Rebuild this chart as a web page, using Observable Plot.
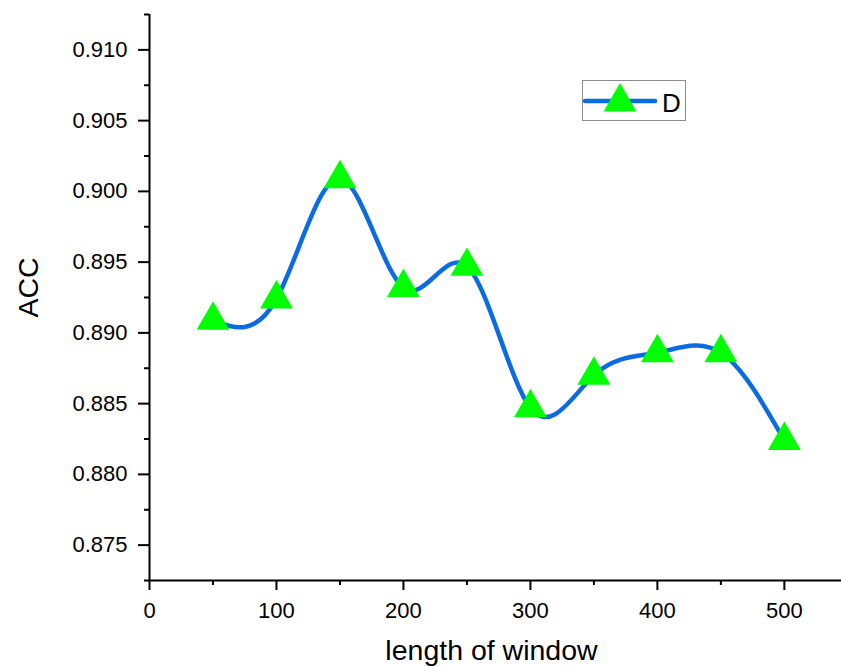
<!DOCTYPE html>
<html>
<head>
<meta charset="utf-8">
<script src="https://cdn.jsdelivr.net/npm/d3@7"></script>
<script src="https://cdn.jsdelivr.net/npm/@observablehq/plot@0.6"></script>
<style>
  html, body { margin: 0; padding: 0; background: #fff; overflow: hidden; }
  #wrap { position: relative; width: 841px; height: 666px; }
  #legend { position: absolute; left: 582px; top: 80px; width: 102px; height: 39px;
            border: 1px solid #8c8c8c; background: #fff; }
</style>
</head>
<body>
<div id="wrap"><div id="chart"></div><div id="legend"></div></div>
<script>
// Data
const windowLength = [50, 100, 150, 200, 250, 300, 350, 400, 450, 500];
const accD = [0.8909, 0.8924, 0.9009, 0.8932, 0.8947, 0.8847, 0.8870, 0.8886, 0.8886, 0.8824];
const seriesName = "D";
const xTicks = [0, 100, 200, 300, 400, 500];
const xMinorTicks = [50, 150, 250, 350, 450];
const yTicks = [0.875, 0.880, 0.885, 0.890, 0.895, 0.900, 0.905, 0.910];
const yMinorTicks = [0.8725, 0.8775, 0.8825, 0.8875, 0.8925, 0.8975, 0.9025, 0.9075, 0.9125];
const xTitle = "length of window";
const yTitle = "ACC";

const lineColor = "#0b6be0";
const markerColor = "#00ff00";

const data = windowLength.map((x, i) => ({x, y: accD[i]}));

const chart = Plot.plot({
  width: 841,
  height: 666,
  marginLeft: 149,
  marginRight: 0,
  marginTop: 14,
  marginBottom: 86,
  style: {fontFamily: "'Liberation Sans', Arial, sans-serif", fontSize: "22px", color: "#000", background: "#fff"},
  x: {domain: [0, 545]},
  y: {domain: [0.8725, 0.9125]},
  marks: [
    Plot.axisY({ticks: yMinorTicks, tickSize: 5, strokeWidth: 2, tickFormat: () => "", label: null}),
    Plot.axisY({ticks: yTicks, tickSize: 11, tickPadding: 11, strokeWidth: 2, tickFormat: d3.format(".3f"), fontSize: 22, label: null}),
    Plot.axisX({ticks: xMinorTicks, tickSize: 5, strokeWidth: 2, tickFormat: () => "", label: null}),
    Plot.axisX({ticks: xTicks, tickSize: 10, tickPadding: 12, strokeWidth: 2, tickFormat: d3.format("d"), fontSize: 22, label: null}),
    Plot.ruleX([0], {strokeWidth: 2}),
    Plot.ruleY([0.8725], {strokeWidth: 2}),
    Plot.line(data, {x: "x", y: "y", curve: "natural", stroke: lineColor, strokeWidth: 4.5}),
    Plot.dot(data, {x: "x", y: "y", symbol: "triangle", r: 12.2, fill: markerColor, stroke: "none"}),
    Plot.text([yTitle], {frameAnchor: "left", textAnchor: "middle", dx: -121, dy: -10, rotate: -90, fontSize: 28.5}),
    Plot.text([xTitle], {frameAnchor: "bottom", textAnchor: "middle", lineAnchor: "bottom", dx: -4, dy: 79.5, fontSize: 28.5})
  ]
});
document.getElementById("chart").appendChild(chart);

// Legend
const legendSvg = d3.select("#legend").append("svg")
  .attr("width", 102).attr("height", 39)
  .style("display", "block").style("overflow", "visible");
legendSvg.append("line")
  .attr("x1", 2).attr("x2", 72).attr("y1", 20).attr("y2", 20)
  .attr("stroke", lineColor).attr("stroke-width", 4.5).attr("stroke-linecap", "round");
legendSvg.append("path")
  .attr("transform", "translate(37,21)")
  .attr("d", d3.symbol(d3.symbolTriangle, Math.PI * 12.2 * 12.2)())
  .attr("fill", markerColor);
legendSvg.append("text")
  .attr("x", 79).attr("y", 31)
  .attr("font-family", "'Liberation Sans', Arial, sans-serif")
  .attr("font-size", 26)
  .text(seriesName);
</script>
</body>
</html>
